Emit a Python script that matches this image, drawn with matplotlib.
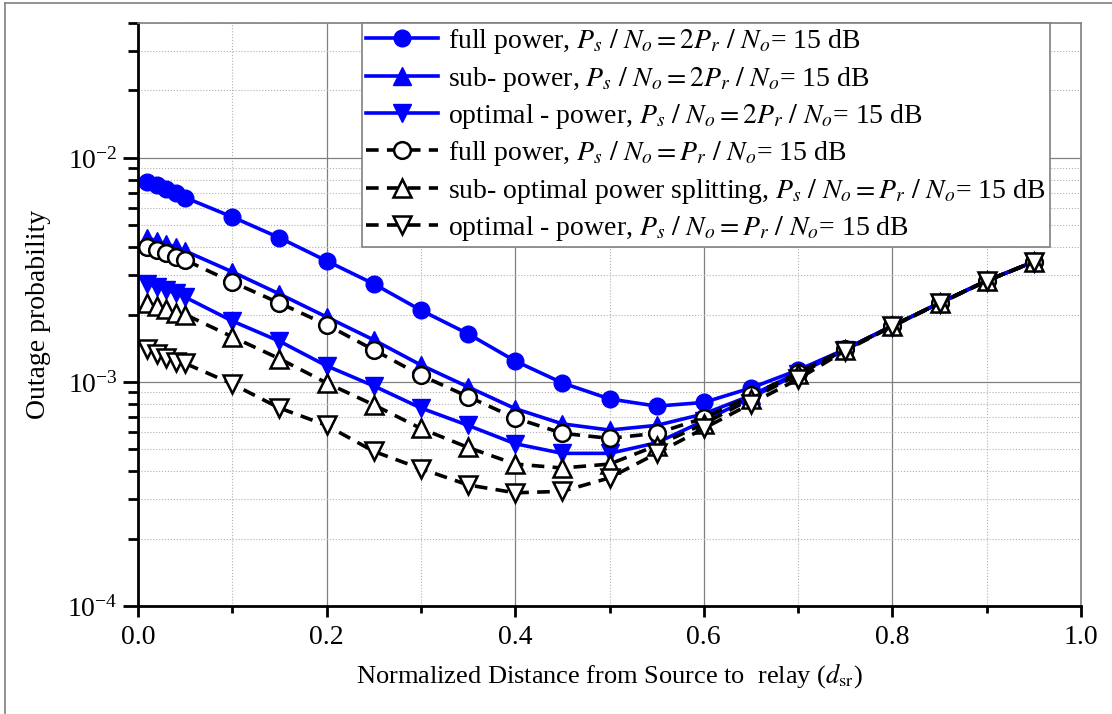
import matplotlib
matplotlib.use('Agg')
import matplotlib.pyplot as plt
from matplotlib.lines import Line2D
from matplotlib.ticker import LogLocator, MultipleLocator, NullFormatter

plt.rcParams['font.family'] = 'Liberation Serif'
plt.rcParams['mathtext.fontset'] = 'stix'

# normalized distance source -> relay
d_sr = [0.01, 0.02, 0.03, 0.04, 0.05, 0.10, 0.15, 0.20, 0.25, 0.30, 0.35, 0.40,
        0.45, 0.50, 0.55, 0.60, 0.65, 0.70, 0.75, 0.80, 0.85, 0.90, 0.95]

# Ps/No = 2Pr/No = 15 dB
full_2 = [7.8e-3, 7.55e-3, 7.25e-3, 6.95e-3, 6.65e-3, 5.45e-3, 4.40e-3, 3.47e-3,
          2.74e-3, 2.09e-3, 1.64e-3, 1.24e-3, 9.9e-4, 8.4e-4, 7.8e-4, 8.1e-4,
          9.4e-4, 1.13e-3, 1.40e-3, 1.78e-3, 2.25e-3, 2.83e-3, 3.44e-3]
sub_2 = [4.40e-3, 4.26e-3, 4.13e-3, 4.0e-3, 3.84e-3, 3.1e-3, 2.47e-3, 1.95e-3,
         1.54e-3, 1.19e-3, 9.5e-4, 7.6e-4, 6.5e-4, 6.1e-4, 6.4e-4, 7.2e-4,
         8.7e-4, 1.10e-3, 1.40e-3, 1.78e-3, 2.25e-3, 2.83e-3, 3.44e-3]
opt_2 = [2.74e-3, 2.65e-3, 2.57e-3, 2.49e-3, 2.39e-3, 1.87e-3, 1.52e-3, 1.18e-3,
         9.6e-4, 7.65e-4, 6.4e-4, 5.3e-4, 4.8e-4, 4.8e-4, 5.35e-4, 6.7e-4,
         8.5e-4, 1.09e-3, 1.39e-3, 1.78e-3, 2.25e-3, 2.83e-3, 3.44e-3]

# Ps/No = Pr/No = 15 dB
full_1 = [4.0e-3, 3.9e-3, 3.77e-3, 3.62e-3, 3.5e-3, 2.79e-3, 2.25e-3, 1.8e-3,
          1.39e-3, 1.07e-3, 8.6e-4, 6.9e-4, 5.9e-4, 5.6e-4, 5.9e-4, 6.9e-4,
          8.7e-4, 1.10e-3, 1.40e-3, 1.78e-3, 2.25e-3, 2.83e-3, 3.44e-3]
sub_1 = [2.25e-3, 2.18e-3, 2.12e-3, 2.03e-3, 2.0e-3, 1.59e-3, 1.27e-3, 9.9e-4,
         7.9e-4, 6.2e-4, 5.1e-4, 4.3e-4, 4.13e-4, 4.3e-4, 5.2e-4, 6.5e-4,
         8.4e-4, 1.08e-3, 1.39e-3, 1.78e-3, 2.25e-3, 2.83e-3, 3.44e-3]
opt_1 = [1.40e-3, 1.33e-3, 1.28e-3, 1.23e-3, 1.21e-3, 9.8e-4, 7.65e-4, 6.4e-4,
         4.9e-4, 4.1e-4, 3.47e-4, 3.2e-4, 3.25e-4, 3.73e-4, 4.8e-4, 6.2e-4,
         8.0e-4, 1.03e-3, 1.38e-3, 1.77e-3, 2.24e-3, 2.82e-3, 3.43e-3]

eq2 = r'$P_s\ /\ N_o = 2P_r\ /\ N_o$= 15 dB'
eq1 = r'$P_s\ /\ N_o = P_r\ /\ N_o$= 15 dB'
labels = ['full power, ' + eq2,
          'sub- power, ' + eq2,
          'optimal - power, ' + eq2,
          'full power, ' + eq1,
          'sub- optimal power splitting, ' + eq1,
          'optimal - power, ' + eq1]

fig = plt.figure(figsize=(11.12, 7.14), dpi=100)
ax = fig.add_axes([138/1112, 1 - 606/714, 943/1112, 583/714])

blue = '#0000ff'
ax.plot(d_sr, full_2, '-o', c=blue, lw=2.6, ms=12, label=labels[0])
ax.plot(d_sr, sub_2, '-^', c=blue, lw=2.6, ms=13, label=labels[1])
ax.plot(d_sr, opt_2, '-v', c=blue, lw=2.6, ms=13, label=labels[2])
ax.plot(d_sr, full_1, '--o', c='black', lw=2.6, ms=12, mfc='white', mew=1.8,
        dashes=(3.5, 2.3), label=labels[3])
ax.plot(d_sr, sub_1, '--^', c='black', lw=2.6, ms=13, mfc='white', mew=1.8,
        dashes=(3.5, 2.3), label=labels[4])
ax.plot(d_sr, opt_1, '--v', c='black', lw=2.6, ms=13, mfc='white', mew=1.8,
        dashes=(3.5, 2.3), label=labels[5])

ax.set_yscale('log')
ax.set_xlim(0, 1)
ax.set_ylim(1e-4, 4e-2)

ax.xaxis.set_major_locator(MultipleLocator(0.2))
ax.xaxis.set_minor_locator(MultipleLocator(0.1))
ax.xaxis.set_major_formatter(matplotlib.ticker.FormatStrFormatter('%.1f'))
ax.yaxis.set_major_locator(LogLocator(base=10, numticks=10))
ax.yaxis.set_minor_locator(LogLocator(base=10, subs=range(2, 10), numticks=20))
ax.yaxis.set_minor_formatter(NullFormatter())

ax.grid(True, which='major', color='#808080', lw=0.9, ls='-')
ax.grid(True, which='minor', color='#b0b0b0', lw=0.8, ls=':')
ax.set_axisbelow(True)

for s in ['left', 'bottom']:
    ax.spines[s].set_linewidth(2)
for s in ['top', 'right']:
    ax.spines[s].set_color('#808080')
    ax.spines[s].set_linewidth(1.2)

ax.tick_params(axis='both', which='major', direction='out', labelsize=20, width=2)
ax.tick_params(axis='x', which='major', length=8, pad=6)
ax.tick_params(axis='x', which='minor', direction='out', length=5, width=2)
ax.tick_params(axis='y', which='major', length=11)
ax.tick_params(axis='y', which='minor', direction='out', length=7, width=2)
ax.tick_params(top=False, right=False, which='both')

ax.set_xlabel(r'Normalized Distance from Source to  relay ($d_{\rm sr}$)', fontsize=19, labelpad=8)
ax.set_ylabel('Outage probability', fontsize=20, labelpad=12)

leg = ax.legend(loc='upper left', bbox_to_anchor=(224/943, 1.0), borderaxespad=0,
                fontsize=20, handlelength=2.6, handletextpad=0.35, labelspacing=0.3,
                borderpad=0.15, fancybox=False, framealpha=1, edgecolor='#808080')
leg.get_frame().set_linewidth(1.2)

# outer frame around the figure
fig.add_artist(Line2D([5/1112, 5/1112], [0, 1 - 3/714], transform=fig.transFigure,
                      color='#808080', lw=1.2))
fig.add_artist(Line2D([5/1112, 1], [1 - 3/714, 1 - 3/714], transform=fig.transFigure,
                      color='#808080', lw=1.2))

fig.savefig('out.png', dpi=100)
